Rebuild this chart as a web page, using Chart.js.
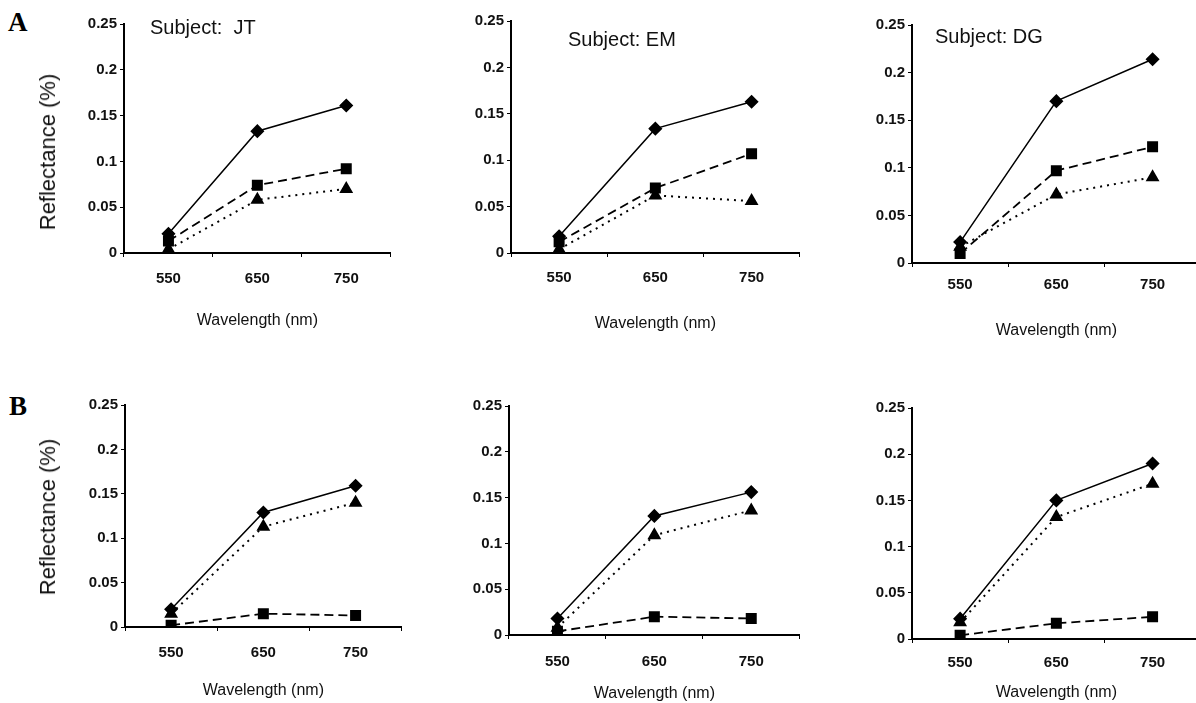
<!DOCTYPE html>
<html>
<head>
<meta charset="utf-8">
<script src="https://cdn.jsdelivr.net/npm/chart.js@4.4.1/dist/chart.umd.min.js"></script>
<style>
  html, body { margin: 0; padding: 0; background: #fff; width: 1196px; height: 703px; overflow: hidden; }
  .panel { position: absolute; }
  .subject { position: absolute; font-family: 'Liberation Sans', Arial, sans-serif; font-size: 20px; color: #111; white-space: pre; line-height: 1; }
  .letter { position: absolute; font-family: 'Liberation Serif', 'Times New Roman', serif; font-weight: bold; font-size: 27px; color: #000; line-height: 1; }
  .ytitle { position: absolute; font-family: 'Liberation Sans', Arial, sans-serif; font-size: 22px; color: #111; white-space: pre; line-height: 1;
            transform: translate(-50%, -50%) rotate(-90deg); }
</style>
</head>
<body>
<div class="letter" style="left:8px;top:9px">A</div>
<div class="letter" style="left:9px;top:393px">B</div>
<script>
const wavelengths = ['550', '650', '750'];
const yTickLabels = ['0', '0.05', '0.1', '0.15', '0.2', '0.25'];

// row A
const jtA_diamond = [0.021, 0.133, 0.161];
const jtA_square = [0.013, 0.074, 0.092];
const jtA_triangle = [0.004, 0.058, 0.070];
const emA_diamond = [0.018, 0.134, 0.163];
const emA_square = [0.012, 0.070, 0.107];
const emA_triangle = [0.004, 0.062, 0.056];
const dgA_diamond = [0.022, 0.170, 0.214];
const dgA_square = [0.010, 0.097, 0.122];
const dgA_triangle = [0.017, 0.072, 0.090];
// row B
const jtB_diamond = [0.020, 0.129, 0.159];
const jtB_square = [0.002, 0.015, 0.013];
const jtB_triangle = [0.015, 0.113, 0.140];
const emB_diamond = [0.018, 0.130, 0.156];
const emB_square = [0.004, 0.020, 0.018];
const emB_triangle = [0.008, 0.109, 0.136];
const dgB_diamond = [0.022, 0.150, 0.190];
const dgB_square = [0.004, 0.017, 0.024];
const dgB_triangle = [0.018, 0.132, 0.168];

// plot boxes (pixels) and text placement for each panel
const panels = [
  { d: jtA_diamond, s: jtA_square, t: jtA_triangle, l: 124, top: 24, r: 390, b: 253, tickDy: 26, titleDy: 67, yTitleY: 152, subject: 'Subject:  JT', sx: 150, sy: 17 },
  { d: emA_diamond, s: emA_square, t: emA_triangle, l: 511, top: 21, r: 799, b: 253, tickDy: 25, titleDy: 70, subject: 'Subject: EM', sx: 568, sy: 29 },
  { d: dgA_diamond, s: dgA_square, t: dgA_triangle, l: 912, top: 25, r: 1200, b: 263, tickDy: 22, titleDy: 67, subject: 'Subject: DG', sx: 935, sy: 26 },
  { d: jtB_diamond, s: jtB_square, t: jtB_triangle, l: 125, top: 405, r: 401, b: 627, tickDy: 26, titleDy: 63, yTitleY: 517 },
  { d: emB_diamond, s: emB_square, t: emB_triangle, l: 509, top: 406, r: 799, b: 635, tickDy: 27, titleDy: 58 },
  { d: dgB_diamond, s: dgB_square, t: dgB_triangle, l: 912, top: 408, r: 1200, b: 639, tickDy: 24, titleDy: 53 }
];

const Y_W = 90, PAD_T = 12, PAD_R = 2, EXTRA_R = 7;
const tickFont = { family: "'Liberation Sans', Arial, sans-serif", size: 15, weight: 'bold' };

panels.forEach(p => {
  const xH = p.titleDy + 4 + 10;
  const div = document.createElement('div');
  div.className = 'panel';
  div.style.left = (p.l - Y_W) + 'px';
  div.style.top = (p.top - PAD_T) + 'px';
  div.style.width = (Y_W + (p.r - p.l) + PAD_R + EXTRA_R) + 'px';
  div.style.height = (PAD_T + (p.b - p.top) + xH) + 'px';
  const canvas = document.createElement('canvas');
  div.appendChild(canvas);
  document.body.appendChild(div);

  if (p.subject) {
    const s = document.createElement('div');
    s.className = 'subject';
    s.style.left = p.sx + 'px';
    s.style.top = p.sy + 'px';
    s.textContent = p.subject;
    document.body.appendChild(s);
  }
  if (p.yTitleY) {
    const yt = document.createElement('div');
    yt.className = 'ytitle';
    yt.style.left = '48px';
    yt.style.top = p.yTitleY + 'px';
    yt.textContent = 'Reflectance (%)';
    document.body.appendChild(yt);
  }

  new Chart(canvas, {
    type: 'line',
    data: {
      labels: wavelengths,
      datasets: [
        { data: p.d, borderColor: '#000', backgroundColor: '#000', borderWidth: 1.5,
          pointStyle: 'rectRot', pointRadius: 6, tension: 0 },
        { data: p.s, borderColor: '#000', backgroundColor: '#000', borderWidth: 1.8, borderDash: [9, 5],
          pointStyle: 'rect', pointRadius: 6.5, tension: 0 },
        { data: p.t, borderColor: '#000', backgroundColor: '#000', borderWidth: 2, borderDash: [2, 5],
          pointStyle: 'triangle', pointRadius: 6, tension: 0 }
      ]
    },
    options: {
      responsive: true,
      maintainAspectRatio: false,
      animation: false,
      layout: { padding: { top: PAD_T, right: PAD_R, left: 0, bottom: 0 } },
      plugins: { legend: { display: false }, tooltip: { enabled: false } },
      scales: {
        x: {
          offset: true,
          grid: { offset: true, drawOnChartArea: false, drawTicks: true, tickLength: 4, color: '#000' },
          border: { color: '#000', width: 2 },
          ticks: { color: '#111', font: tickFont, padding: p.tickDy - 4 - 9, maxRotation: 0 },
          title: { display: true, text: 'Wavelength (nm)', color: '#111',
                   font: { family: "'Liberation Sans', Arial, sans-serif", size: 16 }, padding: { top: 0, bottom: 4 } },
          afterFit: s => { s.height = xH; }
        },
        y: {
          min: 0, max: 0.25,
          grid: { drawOnChartArea: false, drawTicks: true, tickLength: 4, color: '#000' },
          border: { color: '#000', width: 2 },
          ticks: { stepSize: 0.05, color: '#111', font: tickFont, padding: 3,
                   callback: (v, i) => yTickLabels[i] },
          afterFit: s => { s.width = Y_W; }
        }
      }
    }
  });
});
</script>
</body>
</html>
